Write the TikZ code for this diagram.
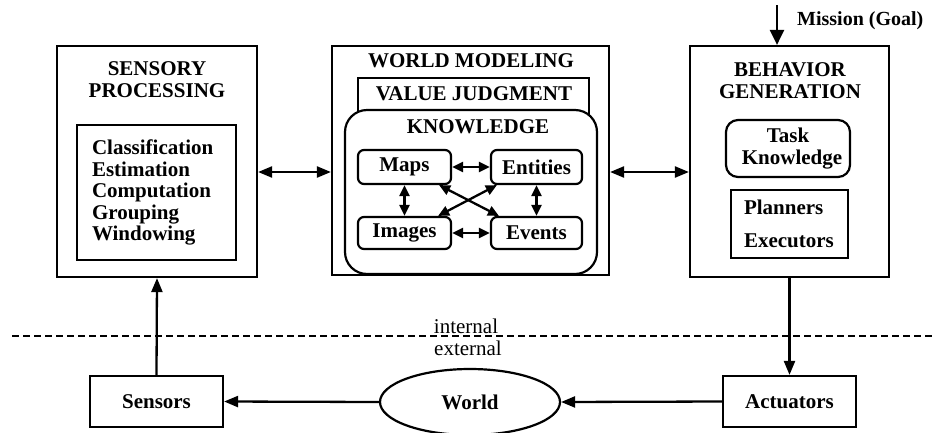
\documentclass[tikz,border=0pt]{standalone}
\usepackage{fontspec}
\setmainfont{Liberation Serif}
\usetikzlibrary{arrows.meta,shapes.geometric,calc}
\begin{document}
\begin{tikzpicture}[x=1pt,y=-1pt,
  every node/.style={font=\fontsize{21}{21.5}\selectfont\bfseries, inner sep=0pt},
  blk/.style={draw, line width=2.2pt, rectangle},
  rblk/.style={draw, line width=2.2pt, rectangle, rounded corners=#1},
  lbl/.style={anchor=base},
  lighttext/.style={font=\fontsize{21}{21.5}\selectfont\mdseries},
  con/.style={line width=2.3pt, -{Triangle[length=14pt,width=11pt]}},
  bicon/.style={line width=2.3pt, {Triangle[length=14pt,width=11pt]}-{Triangle[length=14pt,width=11pt]}},
  smallbi/.style={line width=2.3pt, {Triangle[length=11pt,width=10pt]}-{Triangle[length=11pt,width=10pt]}},
  bigarr/.style={line width=2.3pt, -{Triangle[length=15pt,width=14pt]}},
  divider/.style={line width=1.4pt, dash pattern=on 7pt off 4pt}]
\useasboundingbox (0,0) rectangle (932,432);

% Sensory processing
\node[blk, minimum width=200pt, minimum height=231pt] (sp) at (157,161.5) {};
\node[align=center] (sptitle) at (157,79.5) {SENSORY\\PROCESSING};
\node[blk, align=left, text width=129pt, inner xsep=15pt, minimum height=135pt] (splist) at (156.5,192.5)
  {Classification\\Estimation\\Computation\\Grouping\\Windowing};

% World modeling
\node[blk, minimum width=277pt, minimum height=229pt] (wm) at (470.5,160.5) {};
\node[lbl] (wmtitle) at (471,67) {WORLD MODELING};
\node[blk, minimum width=231pt, minimum height=52pt] (vj) at (473.5,104) {};
\node[lbl] (vjtitle) at (474,100) {VALUE JUDGMENT};
\node[rblk=22pt, fill=white, minimum width=252pt, minimum height=164pt] (kn) at (471,192) {};
\node[lbl] (kntitle) at (478,133) {KNOWLEDGE};
\node[rblk=6pt, minimum width=93pt, minimum height=34pt] (maps) at (404.5,167) {Maps};
\node[rblk=6pt, minimum width=91pt, minimum height=34pt] (ent) at (536.5,167) {Entities};
\node[rblk=6pt, minimum width=93pt, minimum height=32pt] (img) at (404.5,233) {Images};
\node[rblk=6pt, minimum width=91pt, minimum height=32pt] (evt) at (536.5,233) {Events};

\draw[smallbi] (maps.east) -- (ent.west);
\draw[smallbi] (img.east) -- (evt.west);
\draw[smallbi] (maps.south) -- (img.north);
\draw[smallbi] (ent.south) -- (evt.north);
\draw[smallbi] ([xshift=-13pt]maps.south east) -- ([xshift=9pt]evt.north west);
\draw[smallbi] ([xshift=7pt]ent.south west) -- ([xshift=-14pt]img.north east);

% Behavior generation
\node[blk, minimum width=199pt, minimum height=231pt] (bg) at (789.5,161.5) {};
\node[align=center] (bgtitle) at (790,80.5) {BEHAVIOR\\GENERATION};
\node[rblk=12pt, align=center, minimum width=124pt, minimum height=57pt] (task) at (788,148.5) {Task\\\hspace*{8pt}Knowledge};
\node[blk, align=left, text width=91pt, inner xsep=13pt, minimum height=68pt] (plan) at (789.5,224)
  {Planners\\[11.5pt]Executors};

\coordinate (mtop) at (777,5);
\draw[bigarr] (mtop) -- (mtop |- bg.north);
\node[anchor=base west, font=\fontsize{20}{21}\selectfont\bfseries] (mission) at (797,25) {Mission (Goal)};

% links between modules
\coordinate (lk) at (0,172);
\draw[bicon] (sp.east |- lk) -- (wm.west |- lk);
\draw[bicon] (wm.east |- lk) -- (bg.west |- lk);

% internal / external divider
\coordinate (dl) at (12,336);
\coordinate (dr) at (932,336);
\draw[divider] (dl) -- (dr);
\node[lbl, lighttext] (internal) at (466,333) {internal};
\node[lbl, lighttext] (external) at (468,355) {external};

% external parts
\node[blk, minimum width=133pt, minimum height=51pt] (sens) at (156.5,401.5) {Sensors};
\node[blk, minimum width=133pt, minimum height=51pt] (act) at (789.5,401.5) {Actuators};
\node[draw, line width=2.2pt, ellipse, minimum width=180pt, minimum height=66pt] (world) at (470,402) {World};

\draw[con] (sens.north) -- (sp.south);
\draw[con] (bg.south) -- (act.north);
\draw[con] (act.west) -- (world.east);
\draw[con] (world.west) -- (sens.east);
\end{tikzpicture}
\end{document}
